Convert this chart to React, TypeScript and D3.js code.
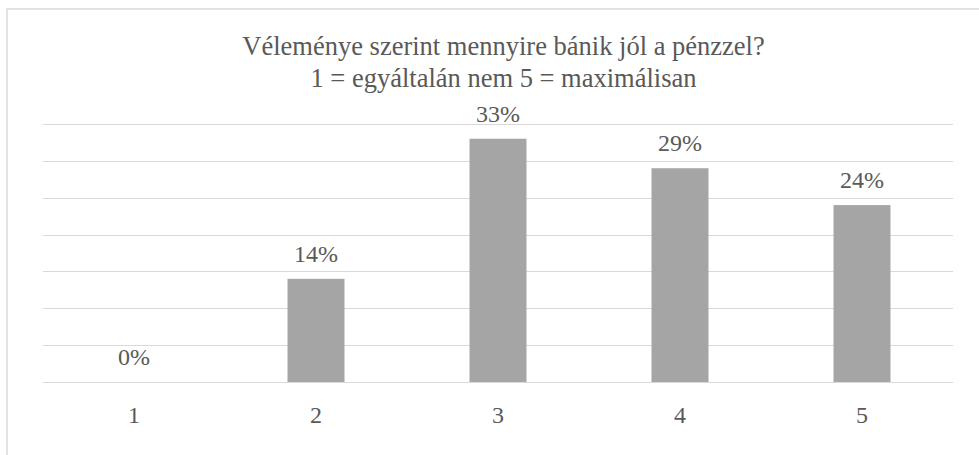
import React from "react";
import * as d3 from "d3";

const categories = ["1", "2", "3", "4", "5"];
const values = [0, 0.14, 0.33, 0.29, 0.24];
const labels = ["0%", "14%", "33%", "29%", "24%"];
const gridTicks = [0, 0.05, 0.1, 0.15, 0.2, 0.25, 0.3, 0.35];
const titleLines = ["Véleménye szerint mennyire bánik jól a pénzzel?", "1 = egyáltalán nem 5 = maximálisan"];

const W = 979;
const H = 455;
const plot = { left: 43, right: 953, top: 124, bottom: 382 };
const textColor = "#595959";
const font = "Liberation Serif, Tinos, Times New Roman, serif";

export default function App() {
  const x = d3
    .scaleBand<string>()
    .domain(categories)
    .range([plot.left, plot.right])
    .paddingInner(0.687)
    .paddingOuter(0.3435);
  const y = d3.scaleLinear().domain([0, 0.35]).range([plot.bottom, plot.top]);
  const step = x.step();

  return (
    <svg
      width={W}
      height={H}
      style={{ position: "absolute", left: 0, top: 0, background: "#fff", fontFamily: font }}
    >
      <rect x={0} y={0} width={W} height={H} fill="#fff" />
      <rect x={7} y={9} width={1000} height={500} fill="none" stroke="#d9d9d9" strokeWidth={1.5} />
      {titleLines.map((t, i) => (
        <text
          key={i}
          x={503.5}
          y={55 + i * 31.7}
          textAnchor="middle"
          style={{ fontFamily: font, fontSize: "26.5px" }}
          fill={textColor}
        >
          {t}
        </text>
      ))}
      {gridTicks.map((t) => (
        <line
          key={t}
          x1={plot.left}
          x2={plot.right}
          y1={Math.round(y(t)) + 0.5}
          y2={Math.round(y(t)) + 0.5}
          stroke="#d9d9d9"
          strokeWidth={1}
        />
      ))}
      {categories.map((c, i) => (
        <rect
          key={c}
          x={x(c)}
          y={y(values[i])}
          width={x.bandwidth()}
          height={plot.bottom - y(values[i])}
          fill="#a5a5a5"
        />
      ))}
      {categories.map((c, i) => (
        <text
          key={"l" + c}
          x={(x(c) as number) + x.bandwidth() / 2}
          y={y(values[i]) - 17}
          textAnchor="middle"
          style={{ fontFamily: font, fontSize: "24px" }}
          fill={textColor}
        >
          {labels[i]}
        </text>
      ))}
      {categories.map((c) => (
        <text
          key={"a" + c}
          x={plot.left + step * (categories.indexOf(c) + 0.5)}
          y={422.5}
          textAnchor="middle"
          style={{ fontFamily: font, fontSize: "24px" }}
          fill={textColor}
        >
          {c}
        </text>
      ))}
    </svg>
  );
}
